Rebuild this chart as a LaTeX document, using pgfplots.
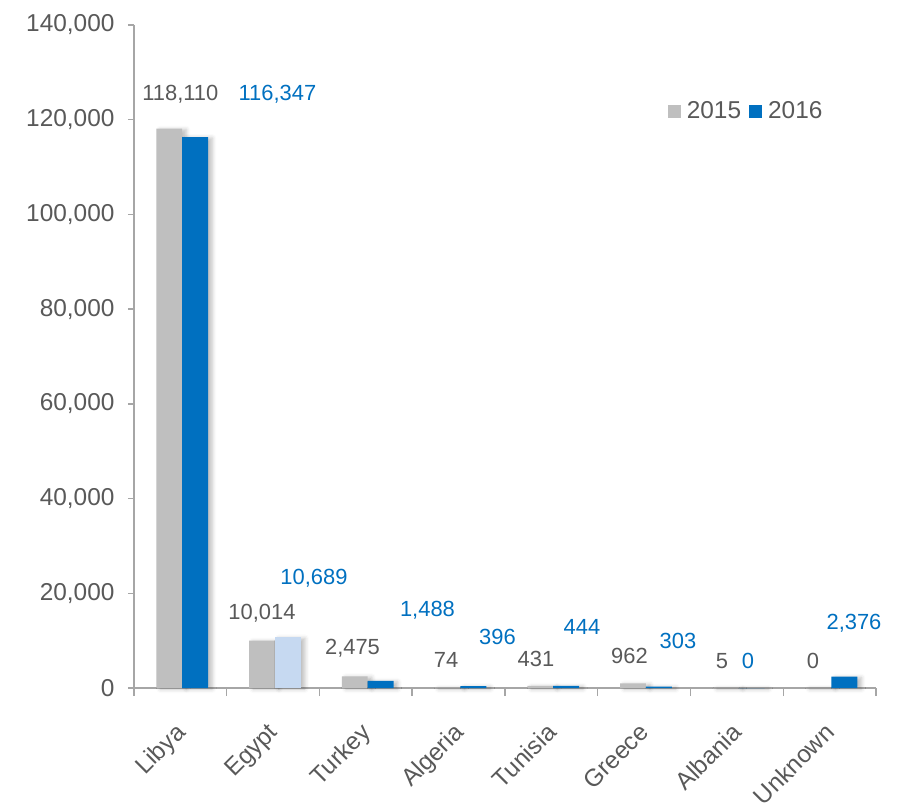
\documentclass[border=0pt]{standalone}
\usepackage{pgfplots}
\pgfplotsset{compat=1.18}
\usetikzlibrary{shadows.blur}
\usepackage{fontspec}
\setmainfont{Liberation Sans}
\definecolor{cgray}{HTML}{BFBFBF}
\definecolor{cblue}{HTML}{0070C0}
\definecolor{clight}{HTML}{C6D9F1}
\definecolor{ctext}{HTML}{595959}
\definecolor{caxis}{HTML}{A6A6A6}
\newcommand{\lbl}{\fontsize{22}{25}\selectfont}
\newcommand{\tck}{\fontsize{24.5}{28}\selectfont}
\tikzset{shad/.style={blur shadow={shadow xshift=4bp, shadow yshift=-1bp,
    shadow blur radius=4bp, shadow opacity=25}}}
\begin{document}
\begin{tikzpicture}
\path[use as bounding box] (-134bp,-124bp) rectangle (785bp,688bp);
\begin{axis}[
    scale only axis,
    width=742bp, height=663bp,
    xmin=-0.5, xmax=7.5, ymin=0, ymax=140000,
    axis lines=left,
    axis line style={draw=caxis, line width=1.5bp, -},
    tick style={draw=caxis, line width=1.5bp},
    tick align=outside,
    major tick length=6bp,
    minor tick length=8bp,
    ytick={0,20000,40000,60000,80000,100000,120000,140000},
    yticklabels={0,{20,000},{40,000},{60,000},{80,000},{100,000},{120,000},{140,000}},
    scaled y ticks=false,
    yticklabel style={font=\tck, text=ctext, xshift=-10bp},
    xtick={0,...,7},
    xticklabels={Libya,Egypt,Turkey,Algeria,Tunisia,Greece,Albania,Unknown},
    major x tick style={draw=none},
    minor xtick={-0.5,0.5,...,7.5},
    x tick label style={font=\tck, text=ctext, rotate=45, anchor=north east,
        xshift=-20.5bp, yshift=-11.7bp},
    ybar, bar width=0.28,
    clip=false,
    legend style={at={(0.825,0.870)}, anchor=center, draw=none, fill=none,
        font=\tck, text=ctext, legend columns=2,
        /tikz/every odd column/.append style={column sep=4bp},
        /tikz/every even column/.append style={column sep=6bp}},
    legend image code/.code={\fill[#1] (0bp,-6.5bp) rectangle (13bp,6.5bp);},
]
\addplot[fill=cgray, draw=none, shad, bar shift=-0.12, forget plot] coordinates {
    (0,118110) (1,10014) (2,2475) (3,74) (4,431) (5,962) (6,5) (7,0)};
\addplot[fill=cblue, draw=none, shad, bar shift=0.16, forget plot] coordinates {
    (0,116347) (2,1488) (3,396) (4,444) (5,303) (6,0) (7,2376)};
\addplot[fill=clight, draw=none, shad, bar shift=0.16, forget plot] coordinates {
    (1,10689)};
\addlegendimage{fill=cgray, draw=none}
\addlegendimage{fill=cblue, draw=none}
\legend{2015,2016}

% data labels as placed in the original
\begin{scope}[every node/.style={font=\lbl, text=ctext}]
\node at (axis cs:0.0,125430) {118,110};
\node at (axis cs:0.88,15837) {10,014};
\node at (axis cs:1.856,8446) {2,475};
\node at (axis cs:2.864,5912) {74};
\node at (axis cs:3.834,6124) {431};
\node at (axis cs:4.842,6757) {962};
\node at (axis cs:5.84,5701) {5};
\node at (axis cs:6.821,5701) {0};
\end{scope}
\begin{scope}[every node/.style={font=\lbl, text=cblue}]
\node at (axis cs:1.047,125430) {116,347};
\node at (axis cs:1.44,23228) {10,689};
\node at (axis cs:2.664,16470) {1,488};
\node at (axis cs:3.419,10769) {396};
\node at (axis cs:4.33,12881) {444};
\node at (axis cs:5.365,9925) {303};
\node at (axis cs:6.12,5701) {0};
\node at (axis cs:7.263,13725) {2,376};
\end{scope}
\end{axis}
\end{tikzpicture}
\end{document}
